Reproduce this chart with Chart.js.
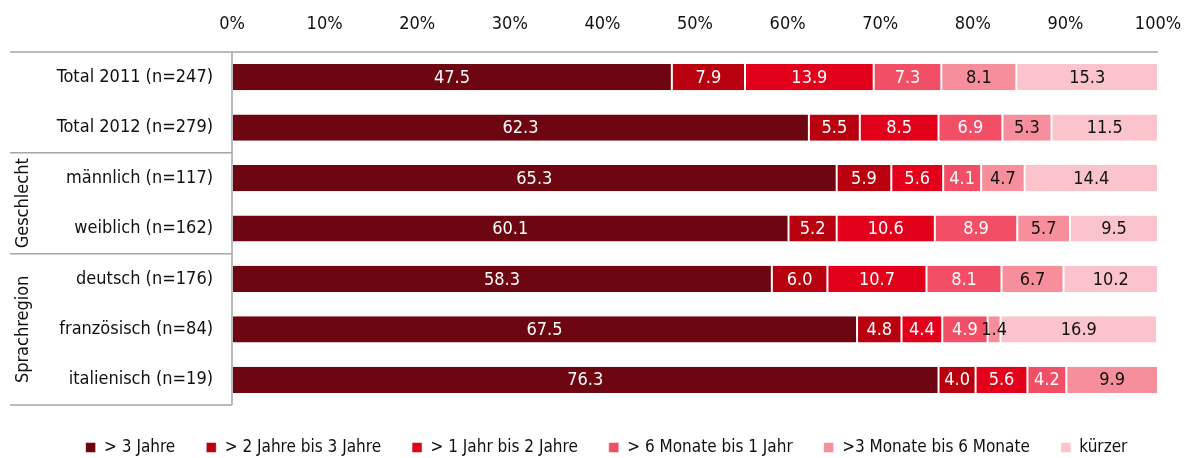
<!DOCTYPE html>
<html>
<head>
<meta charset="utf-8">
<script src="https://cdn.jsdelivr.net/npm/chart.js@4.4.1/dist/chart.umd.min.js"></script>
<style>
  html, body { margin: 0; padding: 0; background: #fff; }
  #wrap { width: 1184px; height: 458px; }
</style>
</head>
<body>
<div id="wrap"><canvas id="chart"></canvas></div>
<script>
const FONT = '"Liberation Sans Narrow", "Arial Narrow", "DejaVu Sans Condensed", sans-serif'

const categories = [
  'Total 2011 (n=247)',
  'Total 2012 (n=279)',
  'männlich (n=117)',
  'weiblich (n=162)',
  'deutsch (n=176)',
  'französisch (n=84)',
  'italienisch (n=19)',
]

// groups: label, first and last category index
const groups = [
  { label: 'Geschlecht', from: 2, to: 3 },
  { label: 'Sprachregion', from: 4, to: 6 },
]

const seriesNames = [
  '> 3 Jahre',
  '> 2 Jahre bis 3 Jahre',
  '> 1 Jahr bis 2 Jahre',
  '> 6 Monate bis 1 Jahr',
  '>3 Monate bis 6 Monate',
  'kürzer',
]

const over3Years = [47.5, 62.3, 65.3, 60.1, 58.3, 67.5, 76.3]
const years2to3 = [7.9, 5.5, 5.9, 5.2, 6.0, 4.8, 4.0]
const years1to2 = [13.9, 8.5, 5.6, 10.6, 10.7, 4.4, 5.6]
const months6to12 = [7.3, 6.9, 4.1, 8.9, 8.1, 4.9, 4.2]
const months3to6 = [8.1, 5.3, 4.7, 5.7, 6.7, 1.4, 9.9]
const shorter = [15.3, 11.5, 14.4, 9.5, 10.2, 16.9, 0]

const seriesValues = [over3Years, years2to3, years1to2, months6to12, months3to6, shorter]
const colors = ['#6d0610', '#b8000f', '#e3001b', '#f24f67', '#f68e9c', '#fbc4cd']
const labelColors = ['#fff', '#fff', '#fff', '#fff', '#111', '#111']

const xTicks = [0, 10, 20, 30, 40, 50, 60, 70, 80, 90, 100]

// value labels in the middle of each segment
const barLabels = {
  id: 'barLabels',
  afterDatasetsDraw(chart) {
    const ctx = chart.ctx
    ctx.save()
    ctx.font = '18px ' + FONT
    ctx.textAlign = 'center'
    ctx.textBaseline = 'middle'
    chart.data.datasets.forEach((ds, i) => {
      chart.getDatasetMeta(i).data.forEach((bar, j) => {
        const v = ds.data[j]
        if (!v) return
        const { x, base, y } = bar.getProps(['x', 'base', 'y'], true)
        ctx.fillStyle = labelColors[i]
        ctx.fillText(v.toFixed(1), (x + base) / 2, y + 1)
      })
    })
    ctx.restore()
  },
}

// table lines and rotated group labels on the left
const tableFrame = {
  id: 'tableFrame',
  afterLayout(chart) {
    // push legend a bit further down
    chart.legend.top += 3
  },
  afterDraw(chart) {
    const ctx = chart.ctx
    const area = chart.chartArea
    const y = chart.scales.y
    const left = 10
    const edge = (i) => (y.getPixelForValue(i) + y.getPixelForValue(i + 1)) / 2
    ctx.save()
    ctx.strokeStyle = '#a6a6a6'
    ctx.lineWidth = 1.5
    ctx.beginPath()
    ctx.moveTo(left, area.top); ctx.lineTo(area.right, area.top)
    ctx.moveTo(area.left, area.top); ctx.lineTo(area.left, area.bottom)
    ctx.moveTo(left, area.bottom); ctx.lineTo(area.left, area.bottom)
    groups.forEach((g) => {
      const yy = edge(g.from - 1)
      ctx.moveTo(left, yy); ctx.lineTo(area.left, yy)
    })
    ctx.stroke()

    ctx.fillStyle = '#111'
    ctx.font = '18px ' + FONT
    ctx.textAlign = 'center'
    ctx.textBaseline = 'middle'
    groups.forEach((g) => {
      const top = edge(g.from - 1)
      const bottom = g.to === categories.length - 1 ? area.bottom : edge(g.to)
      ctx.save()
      ctx.translate(23, (top + bottom) / 2)
      ctx.rotate(-Math.PI / 2)
      ctx.fillText(g.label, 0, 0)
      ctx.restore()
    })
    ctx.restore()
  },
}

new Chart(document.getElementById('chart'), {
  type: 'bar',
  data: {
    labels: categories,
    datasets: seriesValues.map((vals, i) => ({
      label: seriesNames[i],
      data: vals,
      backgroundColor: colors[i],
      borderColor: '#fff',
      borderWidth: { left: 1, right: 1, top: 0, bottom: 0 },
      borderSkipped: false,
      barPercentage: 0.52,
      categoryPercentage: 1,
    })),
  },
  options: {
    indexAxis: 'y',
    responsive: true,
    maintainAspectRatio: false,
    animation: false,
    layout: { padding: { left: 33, right: 4, top: 0, bottom: -5 } },
    scales: {
      x: {
        position: 'top',
        stacked: true,
        min: 0,
        max: 100,
        afterBuildTicks(scale) {
          scale.ticks = xTicks.map((v) => ({ value: v }))
        },
        afterFit(scale) {
          scale.height = 52
          scale.paddingLeft = 0
          scale.paddingRight = 26
        },
        grid: { display: false, drawTicks: false },
        border: { display: false },
        ticks: {
          color: '#111',
          font: { family: FONT, size: 18 },
          padding: 17,
          callback: (v) => v + '%',
        },
      },
      y: {
        stacked: true,
        afterFit(scale) { scale.width = 199 },
        grid: { display: false, drawTicks: false },
        border: { display: false },
        ticks: {
          color: '#111',
          font: { family: FONT, size: 18 },
          padding: 19,
        },
      },
    },
    plugins: {
      legend: {
        position: 'bottom',
        labels: {
          color: '#111',
          font: { family: FONT, size: 17 },
          boxWidth: 10,
          boxHeight: 10,
          padding: 31,
        },
      },
      tooltip: { enabled: false },
    },
  },
  plugins: [barLabels, tableFrame],
})
</script>
</body>
</html>
